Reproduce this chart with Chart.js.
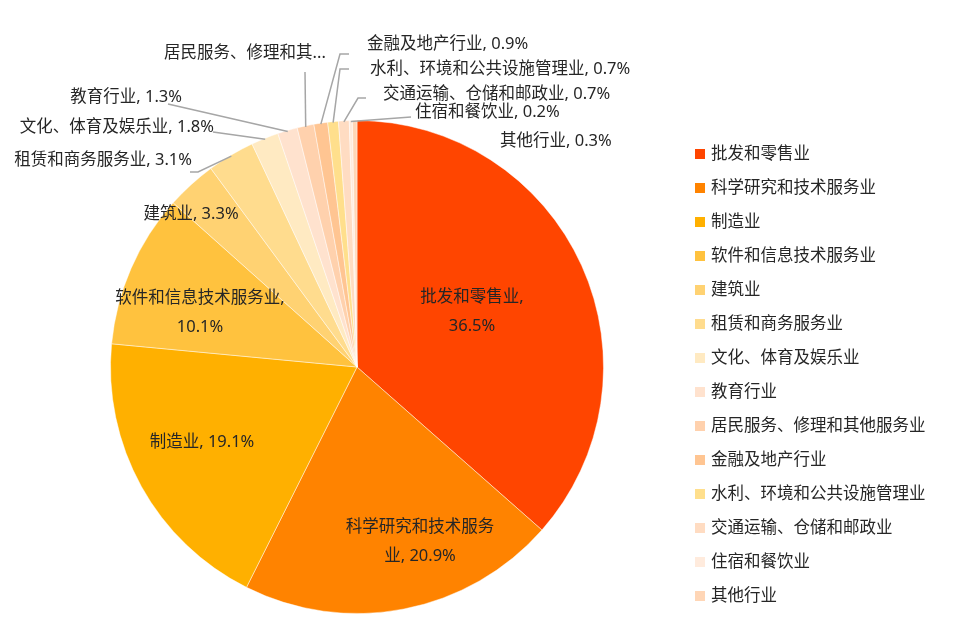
<!DOCTYPE html>
<html>
<head>
<meta charset="utf-8">
<script src="https://cdn.jsdelivr.net/npm/chart.js@4/dist/chart.umd.min.js"></script>
<style>
  html, body { margin: 0; padding: 0; background: #fff; }
  #wrap { position: relative; width: 962px; height: 643px; }
  #pieChart { position: absolute; left: 0; top: 0; }
  #legend { position: absolute; left: 695px; top: 135px; font-family: "Noto Sans", "Noto Sans CJK SC", sans-serif; font-size: 16.5px; color: #262626; }
  .item { height: 34px; display: flex; align-items: center; }
  .box { width: 10px; height: 10px; margin-right: 6px; margin-top: 3px; }
</style>
</head>
<body>
<div id="wrap">
  <canvas id="pieChart" width="962" height="643"></canvas>
  <div id="legend"></div>
</div>
<script>
// industries and share (%)
const labels = ['批发和零售业', '科学研究和技术服务业', '制造业', '软件和信息技术服务业', '建筑业',
  '租赁和商务服务业', '文化、体育及娱乐业', '教育行业', '居民服务、修理和其他服务业', '金融及地产行业',
  '水利、环境和公共设施管理业', '交通运输、仓储和邮政业', '住宿和餐饮业', '其他行业'];
const values = [36.5, 20.9, 19.1, 10.1, 3.3, 3.1, 1.8, 1.3, 1.1, 0.9, 0.7, 0.7, 0.2, 0.3];
const colors = ['#FF4500', '#FF8300', '#FFB000', '#FFC23E', '#FFD272', '#FFDC8E', '#FFEAC2',
  '#FFE2CE', '#FFD1AD', '#FFC592', '#FFDF8C', '#FFDCC2', '#FFEBDD', '#FFD6B6'];

// label text shown on the chart (居民 label is truncated in the original)
const shortNames = labels.slice();
shortNames[8] = '居民服务、修理和其...';

// label placement: text anchor + optional leader elbow points
const labelLayout = [
  { x: 472, y: 297, align: 'center', split: true },
  { x: 420, y: 527, align: 'center', text: ['科学研究和技术服务', '业, 20.9%'] },
  { x: 202, y: 442, align: 'center' },
  { x: 200, y: 298, align: 'center', split: true },
  { x: 191, y: 214, align: 'center' },
  { x: 192, y: 160, align: 'right', leader: [[190, 172], [198, 172]] },
  { x: 214, y: 127, align: 'right', leader: [[213, 132]] },
  { x: 182, y: 97, align: 'right', leader: [[168, 104]] },
  { x: 245, y: 53, align: 'center', noValue: true, leader: [[305, 72]] },
  { x: 367, y: 44, align: 'left', leader: [[349, 54], [340, 54]] },
  { x: 370, y: 69, align: 'left', leader: [[349, 69], [340, 69]] },
  { x: 383, y: 94, align: 'left', leader: [[366, 98], [358, 98]] },
  { x: 415, y: 112, align: 'left', leader: [[411, 117]] },
  { x: 500, y: 141, align: 'left' }
];

const sliceLabels = {
  id: 'sliceLabels',
  afterDatasetsDraw(chart) {
    const ctx = chart.ctx;
    const meta = chart.getDatasetMeta(0);
    ctx.save();
    ctx.font = '16.5px "Noto Sans", "Noto Sans CJK SC", sans-serif';
    ctx.fillStyle = '#262626';
    ctx.textBaseline = 'middle';
    meta.data.forEach((arc, i) => {
      const L = labelLayout[i];
      const p = arc.getProps(['x', 'y', 'startAngle', 'endAngle', 'outerRadius'], true);
      if (L.leader) {
        const mid = (p.startAngle + p.endAngle) / 2;
        const ex = p.x + Math.cos(mid) * (p.outerRadius - 1);
        const ey = p.y + Math.sin(mid) * (p.outerRadius - 1);
        ctx.strokeStyle = '#A6A6A6';
        ctx.lineWidth = 1.5;
        ctx.beginPath();
        L.leader.forEach((pt, k) => k ? ctx.lineTo(pt[0], pt[1]) : ctx.moveTo(pt[0], pt[1]));
        ctx.lineTo(ex, ey);
        ctx.stroke();
      }
      let lines;
      const v = values[i].toFixed(1) + '%';
      if (L.text) lines = L.text;
      else if (L.noValue) lines = [shortNames[i]];
      else if (L.split) lines = [shortNames[i] + ',', v];
      else lines = [shortNames[i] + ', ' + v];
      ctx.textAlign = L.align;
      lines.forEach((t, k) => ctx.fillText(t, L.x, L.y + k * 29.5));
    });
    ctx.restore();
  }
};

const ctx = document.getElementById('pieChart').getContext('2d');
const pieChart = new Chart(ctx, {
  type: 'pie',
  data: {
    labels: labels,
    datasets: [{
      data: values,
      backgroundColor: colors,
      borderColor: 'rgba(255,255,255,0.45)',
      borderWidth: 1
    }]
  },
  options: {
    responsive: false,
    animation: false,
    layout: { padding: { left: 110, right: 358, top: 120, bottom: 29 } },
    plugins: {
      legend: { display: false },
      tooltip: { enabled: false }
    }
  },
  plugins: [sliceLabels]
});

// legend on the right
const legend = document.getElementById('legend');
labels.forEach((name, i) => {
  const row = document.createElement('div');
  row.className = 'item';
  row.innerHTML = '<span class="box" style="background:' + colors[i] + '"></span><span>' + name + '</span>';
  legend.appendChild(row);
});
</script>
</body>
</html>
